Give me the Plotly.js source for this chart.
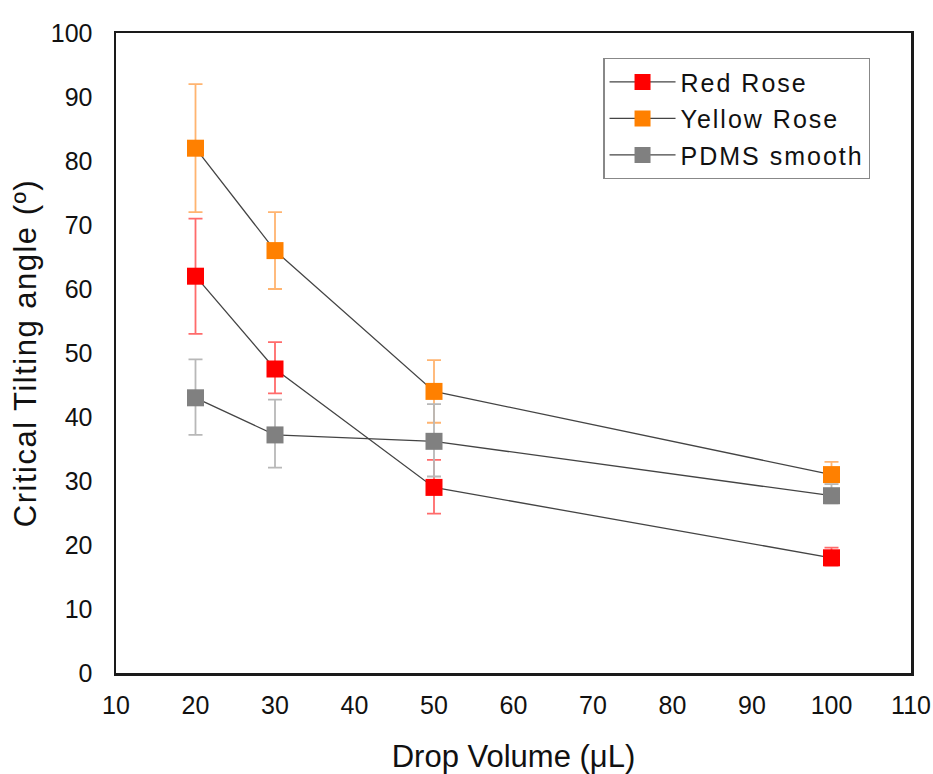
<!DOCTYPE html>
<html>
<head>
<meta charset="utf-8">
<script src="https://cdn.plot.ly/plotly-3.0.1.min.js"></script>
<style>
html,body{margin:0;padding:0;background:#fff;}
#chart{width:933px;height:774px;}
.ytitle{letter-spacing:1.5px;}
.legendtext{letter-spacing:2px;}
</style>
</head>
<body>
<div id="chart"></div>
<script>
const volumes = [20, 30, 50, 100];
const redRose = [62, 47.5, 29, 18];
const redRoseErrUp = [9, 4.2, 4.3, 1.6];
const redRoseErrDown = [9, 3.8, 4.1, 1.2];
const yellowRose = [82, 66, 44, 31];
const yellowRoseErrUp = [10, 6, 4.9, 2];
const yellowRoseErrDown = [10, 6, 4.9, 1.2];
const pdmsSmooth = [43, 37.2, 36.2, 27.7];
const pdmsSmoothErrUp = [6, 5.5, 5.8, 1.8];
const pdmsSmoothErrDown = [5.8, 5.1, 5.5, 1.2];
const xTicks = [10, 20, 30, 40, 50, 60, 70, 80, 90, 100, 110];
const yTicks = [0, 10, 20, 30, 40, 50, 60, 70, 80, 90, 100];

function series(name, y, errUp, errDown, color, errColor) {
  return {
    x: volumes, y: y, name: name, type: 'scatter', mode: 'lines+markers',
    legendgroup: name,
    line: {color: '#444', width: 1.3},
    marker: {symbol: 'square', size: 17, color: color},
    error_y: {type: 'data', symmetric: false, array: errUp, arrayminus: errDown, visible: true,
              color: errColor, thickness: 1.8, width: 7}
  };
}

const data = [
  series('Red Rose', redRose, redRoseErrUp, redRoseErrDown, '#ff0000', '#ff6b6b'),
  series('Yellow Rose', yellowRose, yellowRoseErrUp, yellowRoseErrDown, '#ff8000', '#ffb470'),
  series('PDMS smooth', pdmsSmooth, pdmsSmoothErrUp, pdmsSmoothErrDown, '#808080', '#b8b8b8')
];

const font = {family: '"Liberation Sans", Arial, sans-serif', color: '#111'};

const layout = {
  width: 933, height: 774,
  margin: {l: 116, r: 22, t: 33, b: 101},
  paper_bgcolor: '#fff', plot_bgcolor: '#fff',
  font: Object.assign({size: 24}, font),
  showlegend: true,
  legend: {
    x: 0.613, y: 0.961, xanchor: 'left', yanchor: 'top',
    bgcolor: '#fff', bordercolor: '#888', borderwidth: 1.2,
    font: Object.assign({size: 25}, font),
    tracegroupgap: 1, itemwidth: 66
  },
  xaxis: {
    range: [10, 110], tickvals: xTicks, ticktext: xTicks.map(String),
    showgrid: false, zeroline: false, ticks: '', ticklabelstandoff: 8,
    showline: true, linecolor: '#1a1a1a', linewidth: 2.5, mirror: true,
    tickfont: Object.assign({size: 25}, font),
    title: {text: 'Drop Volume (μL)', font: Object.assign({size: 31}, font), standoff: 30}
  },
  yaxis: {
    range: [0, 100], tickvals: yTicks, ticktext: yTicks.map(String),
    showgrid: false, zeroline: false, ticks: '', ticklabelstandoff: 16,
    showline: true, linecolor: '#1a1a1a', linewidth: 2.5, mirror: true,
    tickfont: Object.assign({size: 25}, font),
    title: {text: 'Critical Tilting angle (º)', font: Object.assign({size: 31}, font), standoff: 5}
  }
};

Plotly.newPlot('chart', data, layout, {displayModeBar: false, staticPlot: true});
</script>
</body>
</html>
